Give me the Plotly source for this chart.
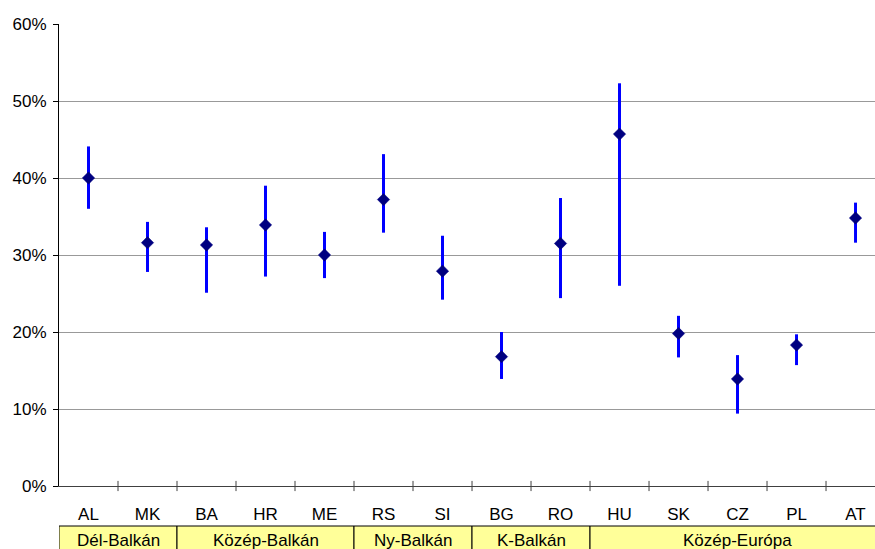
import plotly.graph_objects as go

# Country codes in plotting order
countries = ["AL", "MK", "BA", "HR", "ME", "RS", "SI", "BG", "RO", "HU", "SK", "CZ", "PL", "AT"]

# Point estimates and lower / upper bounds (shares)
mid = [0.400, 0.316, 0.313, 0.339, 0.300, 0.372, 0.279, 0.168, 0.315, 0.457, 0.198, 0.139, 0.183, 0.348]
low = [0.360, 0.278, 0.251, 0.272, 0.270, 0.329, 0.242, 0.139, 0.244, 0.260, 0.167, 0.094, 0.157, 0.316]
high = [0.441, 0.343, 0.336, 0.390, 0.330, 0.431, 0.325, 0.200, 0.374, 0.523, 0.221, 0.170, 0.197, 0.368]

# Regional groups and how many countries each covers
groups = ["Dél-Balkán", "Közép-Balkán", "Ny-Balkán", "K-Balkán", "Közép-Európa"]
group_sizes = [2, 3, 2, 2, 5]

y_ticks = [0, 0.1, 0.2, 0.3, 0.4, 0.5, 0.6]
y_tick_text = ["0%", "10%", "20%", "30%", "40%", "50%", "60%"]

FONT = "Liberation Sans, Arial, sans-serif"
FSIZE = 17
xs = list(range(len(countries)))

fig = go.Figure()
fig.add_trace(go.Scatter(
    x=xs,
    y=mid,
    mode="markers",
    marker=dict(symbol="diamond", size=9.5, color="#000080",
                line=dict(color="#000080", width=0.5)),
    error_y=dict(
        type="data",
        symmetric=False,
        array=[h - m for h, m in zip(high, mid)],
        arrayminus=[m - l for m, l in zip(mid, low)],
        color="#0000FF",
        thickness=3,
        width=0,
    ),
    showlegend=False,
    hoverinfo="skip",
))

shapes = []
# Crossing tick marks on the category axis, at the boundaries between countries
for i in range(1, len(countries) + 1):
    shapes.append(dict(type="line", xref="x", yref="paper",
                       x0=i - 0.5, x1=i - 0.5, y0=-0.011, y1=0.011,
                       line=dict(color="#404040", width=1)))

# Group row: yellow cells with black borders under the country labels
annotations = []
start = -0.5
for name, size in zip(groups, group_sizes):
    end = start + size
    shapes.append(dict(type="rect", xref="x", yref="paper",
                       x0=start, x1=end, y0=-0.3, y1=-0.0866,
                       fillcolor="#FFFF99", line=dict(color="black", width=1),
                       layer="above"))
    annotations.append(dict(x=(start + end) / 2, y=-0.118, xref="x", yref="paper",
                            text=name, showarrow=False,
                            font=dict(family=FONT, size=FSIZE, color="black"),
                            xanchor="center", yanchor="middle"))
    start = end

fig.update_layout(
    width=875,
    height=549,
    margin=dict(l=59, r=0, t=24, b=63),
    paper_bgcolor="white",
    plot_bgcolor="white",
    font=dict(family=FONT, size=FSIZE, color="black"),
    shapes=shapes,
    annotations=annotations,
    xaxis=dict(
        tickmode="array",
        tickvals=xs,
        ticktext=countries,
        range=[-0.5, 13.33],
        showgrid=False,
        zeroline=False,
        showline=True,
        linecolor="#404040",
        linewidth=1,
        ticks="",
        ticklabelstandoff=13,
        tickfont=dict(family=FONT, size=FSIZE, color="black"),
    ),
    yaxis=dict(
        range=[0, 0.6],
        tickmode="array",
        tickvals=y_ticks,
        ticktext=y_tick_text,
        showgrid=True,
        gridcolor="#999999",
        gridwidth=1,
        zeroline=False,
        showline=True,
        linecolor="black",
        linewidth=1,
        ticks="outside",
        ticklen=5,
        tickcolor="black",
        ticklabelstandoff=3,
        tickfont=dict(family=FONT, size=FSIZE, color="black"),
    ),
)

fig.write_html("out.html")
